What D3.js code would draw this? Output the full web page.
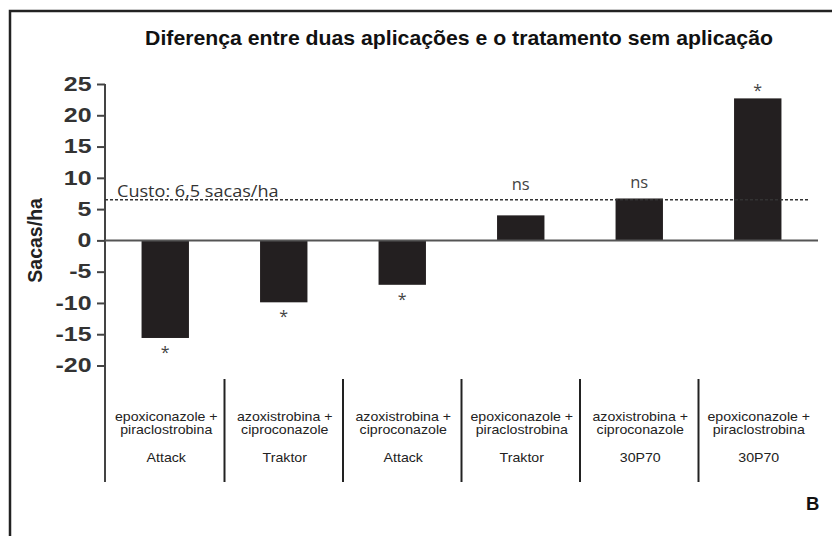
<!DOCTYPE html>
<html>
<head>
<meta charset="utf-8">
<script src="https://cdn.jsdelivr.net/npm/d3@7"></script>
<style>
  body { margin: 0; background: #fff; }
  text { font-family: "Liberation Sans", Arial, sans-serif; }
</style>
</head>
<body>
<div id="chart"></div>
<script>
var width = 832;
var height = 536;

// data
var ingredientLine1 = ["epoxiconazole +", "azoxistrobina +", "azoxistrobina +", "epoxiconazole +", "azoxistrobina +", "epoxiconazole +"];
var ingredientLine2 = ["piraclostrobina", "ciproconazole", "ciproconazole", "piraclostrobina", "ciproconazole", "piraclostrobina"];
var cultivars = ["Attack", "Traktor", "Attack", "Traktor", "30P70", "30P70"];
var values = [-15.6, -9.9, -7.1, 4.0, 6.7, 22.7];
var signif = ["*", "*", "*", "ns", "ns", "*"];
var cost = 6.5;
var yTicks = [25, 20, 15, 10, 5, 0, -5, -10, -15, -20];

window.onload = start;

function start() {
    var cats = values.map(function(d, i) { return i; });

    var svg = d3.select("#chart")
        .append("svg")
        .attr("width", width)
        .attr("height", height);

    // outer frame (runs off the right and bottom edges)
    svg.append("rect")
        .attr("x", 10).attr("y", 11)
        .attr("width", 840).attr("height", 540)
        .attr("fill", "none")
        .attr("stroke", "#222")
        .attr("stroke-width", 2.5);

    // scales
    var xScale = d3.scaleBand().domain(cats).range([106, 817]).paddingInner(0.6).paddingOuter(0.3);
    var yScale = d3.scaleLinear().domain([-20, 25]).range([365.5, 84]);
    var step = xScale.step();

    // title
    svg.append("text")
        .attr("transform", "translate(459,45) scale(1.09,1)")
        .attr("text-anchor", "middle")
        .style("font-size", "19.5px")
        .style("font-weight", "bold")
        .attr("fill", "#111")
        .text("Diferença entre duas aplicações e o tratamento sem aplicação");

    // y axis (plain hyphen for negatives, as in the figure)
    var yAxis = d3.axisLeft(yScale).tickValues(yTicks).tickSize(8).tickPadding(6)
        .tickFormat(function(d) { return String(d); });
    var gy = svg.append("g")
        .attr("transform", "translate(105,0)")
        .call(yAxis);
    gy.select(".domain").remove();
    gy.selectAll(".tick line").attr("stroke", "#444").attr("stroke-width", 2);
    gy.selectAll(".tick text")
        .attr("fill", "#333")
        .style("font-size", "19.5px")
        .style("font-weight", "bold")
        .style("font-family", "'Liberation Sans', Arial, sans-serif")
        .attr("x", 0)
        .attr("transform", "translate(-13.5,0) scale(1.28,1)");

    svg.append("line")
        .attr("x1", 105).attr("x2", 105)
        .attr("y1", yScale(25)).attr("y2", 482)
        .attr("stroke", "#444").attr("stroke-width", 2);

    // y label
    svg.append("text")
        .attr("transform", "translate(42," + yScale(0) + ") rotate(-90)")
        .attr("text-anchor", "middle")
        .style("font-size", "19.5px")
        .style("font-weight", "bold")
        .attr("fill", "#222")
        .text("Sacas/ha");

    // bars
    svg.selectAll("rect.bar")
        .data(values)
        .enter()
        .append("rect")
        .attr("class", "bar")
        .attr("x", function(d, i) { return xScale(i); })
        .attr("y", function(d) { return yScale(Math.max(0, d)); })
        .attr("width", xScale.bandwidth())
        .attr("height", function(d) { return Math.abs(yScale(d) - yScale(0)); })
        .attr("fill", "#231f20");

    // zero line
    svg.append("line")
        .attr("x1", 105).attr("x2", 818)
        .attr("y1", yScale(0)).attr("y2", yScale(0))
        .attr("stroke", "#555").attr("stroke-width", 2);

    // cost line
    svg.append("line")
        .attr("x1", 105).attr("x2", 808)
        .attr("y1", yScale(cost)).attr("y2", yScale(cost))
        .attr("stroke", "#333").attr("stroke-width", 1.3)
        .attr("stroke-dasharray", "3,2");

    svg.append("text")
        .attr("transform", "translate(117," + (yScale(cost) - 3) + ") scale(1.13,1)")
        .style("font-family", "'Open Sans', sans-serif")
        .style("font-size", "16px")
        .attr("fill", "#333")
        .text("Custo: 6,5 sacas/ha");

    // significance marks
    svg.selectAll("text.sig")
        .data(signif)
        .enter()
        .append("text")
        .attr("class", "sig")
        .attr("text-anchor", "middle")
        .attr("x", function(d, i) { return xScale(i) + xScale.bandwidth() / 2; })
        .attr("y", function(d, i) {
            if (d == "ns") return yScale(Math.max(values[i], cost)) - 10;
            if (values[i] < 0) return yScale(values[i]) + 20;
            return yScale(values[i]) - 2;
        })
        .style("font-family", "'Open Sans', sans-serif")
        .style("font-size", function(d) { return d == "ns" ? "16.5px" : "16px"; })
        .attr("fill", "#444")
        .text(function(d) { return d; });

    // category separators
    svg.selectAll("line.sep")
        .data(cats.slice(1))
        .enter()
        .append("line")
        .attr("class", "sep")
        .attr("x1", function(d) { return xScale(d) - step * 0.3; })
        .attr("x2", function(d) { return xScale(d) - step * 0.3; })
        .attr("y1", 379).attr("y2", 482)
        .attr("stroke", "#222").attr("stroke-width", 2);

    // category labels
    var labels = svg.selectAll("g.cat")
        .data(cats)
        .enter()
        .append("g")
        .attr("class", "cat")
        .attr("transform", function(d) { return "translate(" + (xScale(d) + xScale.bandwidth() / 2 + 1) + ",0) scale(1.09,1)"; });

    labels.append("text").attr("y", 421).text(function(d) { return ingredientLine1[d]; });
    labels.append("text").attr("y", 434).text(function(d) { return ingredientLine2[d]; });
    labels.append("text").attr("y", 462.5).text(function(d) { return cultivars[d]; });
    labels.selectAll("text")
        .attr("text-anchor", "middle")
        .style("font-size", "13px")
        .attr("fill", "#222");

    // panel letter
    svg.append("text")
        .attr("x", 806).attr("y", 510)
        .style("font-size", "18.5px")
        .style("font-weight", "bold")
        .attr("fill", "#111")
        .text("B");
}
</script>
</body>
</html>
